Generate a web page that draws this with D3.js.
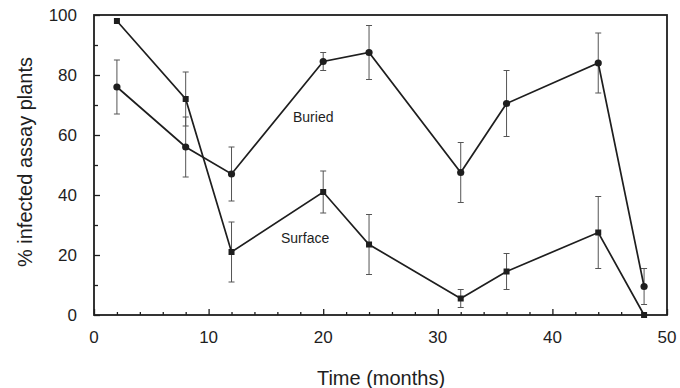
<!DOCTYPE html>
<html><head><meta charset="utf-8">
<script src="https://cdn.jsdelivr.net/npm/d3@7"></script>
<style>
html,body{margin:0;padding:0;background:#fff;}
svg{display:block;font-family:"Liberation Sans",Arial,Helvetica,sans-serif;}
</style></head>
<body><svg id="c" width="680" height="388"></svg>
<script>
const months = [2, 8, 12, 20, 24, 32, 36, 44, 48];
const buried = [76, 56, 47, 84.5, 87.5, 47.5, 70.5, 84, 9.5];
const buriedErr = [9, 10, 9, 3, 9, 10, 11, 10, 6];
const surface = [98, 72, 21, 41, 23.5, 5.5, 14.5, 27.5, 0];
const surfaceErr = [0, 9, 10, 7, 10, 3, 6, 12, 0];
const xTickLabels = [0, 10, 20, 30, 40, 50];
const yTickLabels = [0, 20, 40, 60, 80, 100];
const seriesLabels = ["Buried", "Surface"];
const xTitle = "Time (months)";
const yTitle = "% infected assay plants";

const svg = d3.select("#c");
const x = d3.scaleLinear().domain([0, 50]).range([94, 667]);
const y = d3.scaleLinear().domain([0, 100]).range([315, 15]);
const ink = "#1e1e1e";

// frame
svg.append("rect").attr("x", x(0)).attr("y", y(100))
  .attr("width", x(50) - x(0)).attr("height", y(0) - y(100))
  .attr("fill", "none").attr("stroke", ink).attr("stroke-width", 1.8);

// x axis ticks (inward) and labels
const xAxis = d3.axisBottom(x).tickValues(d3.range(0, 51, 2))
  .tickSize(0).tickFormat("");
const gx = svg.append("g").attr("transform", `translate(0,${y(0)})`).call(xAxis);
gx.select(".domain").remove();
gx.selectAll(".tick line").remove();
gx.selectAll(".tick").append("line")
  .attr("y1", 0).attr("y2", d => d % 10 === 0 ? -6 : -3)
  .attr("stroke", ink).attr("stroke-width", 1.3);
svg.append("g").selectAll("text").data(xTickLabels).join("text")
  .attr("x", d => x(d)).attr("y", 343).attr("text-anchor", "middle")
  .attr("font-size", 17).attr("fill", ink).text(d => d);

// y axis ticks (inward) and labels
const yAxis = d3.axisLeft(y).tickValues(d3.range(0, 101, 10)).tickSize(0).tickFormat("");
const gy = svg.append("g").attr("transform", `translate(${x(0)},0)`).call(yAxis);
gy.select(".domain").remove();
gy.selectAll(".tick").append("line")
  .attr("x1", 0).attr("x2", d => d % 20 === 0 ? 6 : 4)
  .attr("stroke", ink).attr("stroke-width", 1.3);
svg.append("g").selectAll("text").data(yTickLabels).join("text")
  .attr("x", 77).attr("y", d => y(d) + 6).attr("text-anchor", "end")
  .attr("font-size", 17).attr("fill", ink).text(d => d);

// titles
svg.append("text").attr("x", 381).attr("y", 385).attr("text-anchor", "middle")
  .attr("font-size", 20).attr("fill", ink).text(xTitle);
svg.append("text").attr("transform", `translate(32,162) rotate(-90)`)
  .attr("text-anchor", "middle").attr("font-size", 20).attr("fill", ink).text(yTitle);

function drawSeries(vals, errs, shape) {
  const pts = months.map((m, i) => ({m, v: vals[i], e: errs[i]}));
  const g = svg.append("g");
  // error bars
  const eb = g.selectAll("g.eb").data(pts.filter(d => d.e > 0)).join("g");
  eb.append("line").attr("x1", d => x(d.m)).attr("x2", d => x(d.m))
    .attr("y1", d => y(d.v + d.e)).attr("y2", d => y(d.v - d.e))
    .attr("stroke", "#555").attr("stroke-width", 1);
  [1, -1].forEach(s => {
    eb.append("line").attr("x1", d => x(d.m) - 3).attr("x2", d => x(d.m) + 3)
      .attr("y1", d => y(d.v + s * d.e)).attr("y2", d => y(d.v + s * d.e))
      .attr("stroke", "#555").attr("stroke-width", 1);
  });
  // line
  g.append("path").datum(pts)
    .attr("d", d3.line().x(d => x(d.m)).y(d => y(d.v)))
    .attr("fill", "none").attr("stroke", ink).attr("stroke-width", 1.7);
  // markers
  if (shape === "circle") {
    g.selectAll("circle").data(pts).join("circle")
      .attr("cx", d => x(d.m)).attr("cy", d => y(d.v)).attr("r", 3.6).attr("fill", ink);
  } else {
    g.selectAll("rect").data(pts).join("rect")
      .attr("x", d => x(d.m) - 3).attr("y", d => y(d.v) - 3)
      .attr("width", 6).attr("height", 6).attr("fill", ink);
  }
}
drawSeries(buried, buriedErr, "circle");
drawSeries(surface, surfaceErr, "square");

svg.append("text").attr("x", 293).attr("y", 122).attr("font-size", 14)
  .attr("fill", ink).text(seriesLabels[0]);
svg.append("text").attr("x", 281).attr("y", 243).attr("font-size", 14)
  .attr("fill", ink).text(seriesLabels[1]);
</script>
</body></html>
